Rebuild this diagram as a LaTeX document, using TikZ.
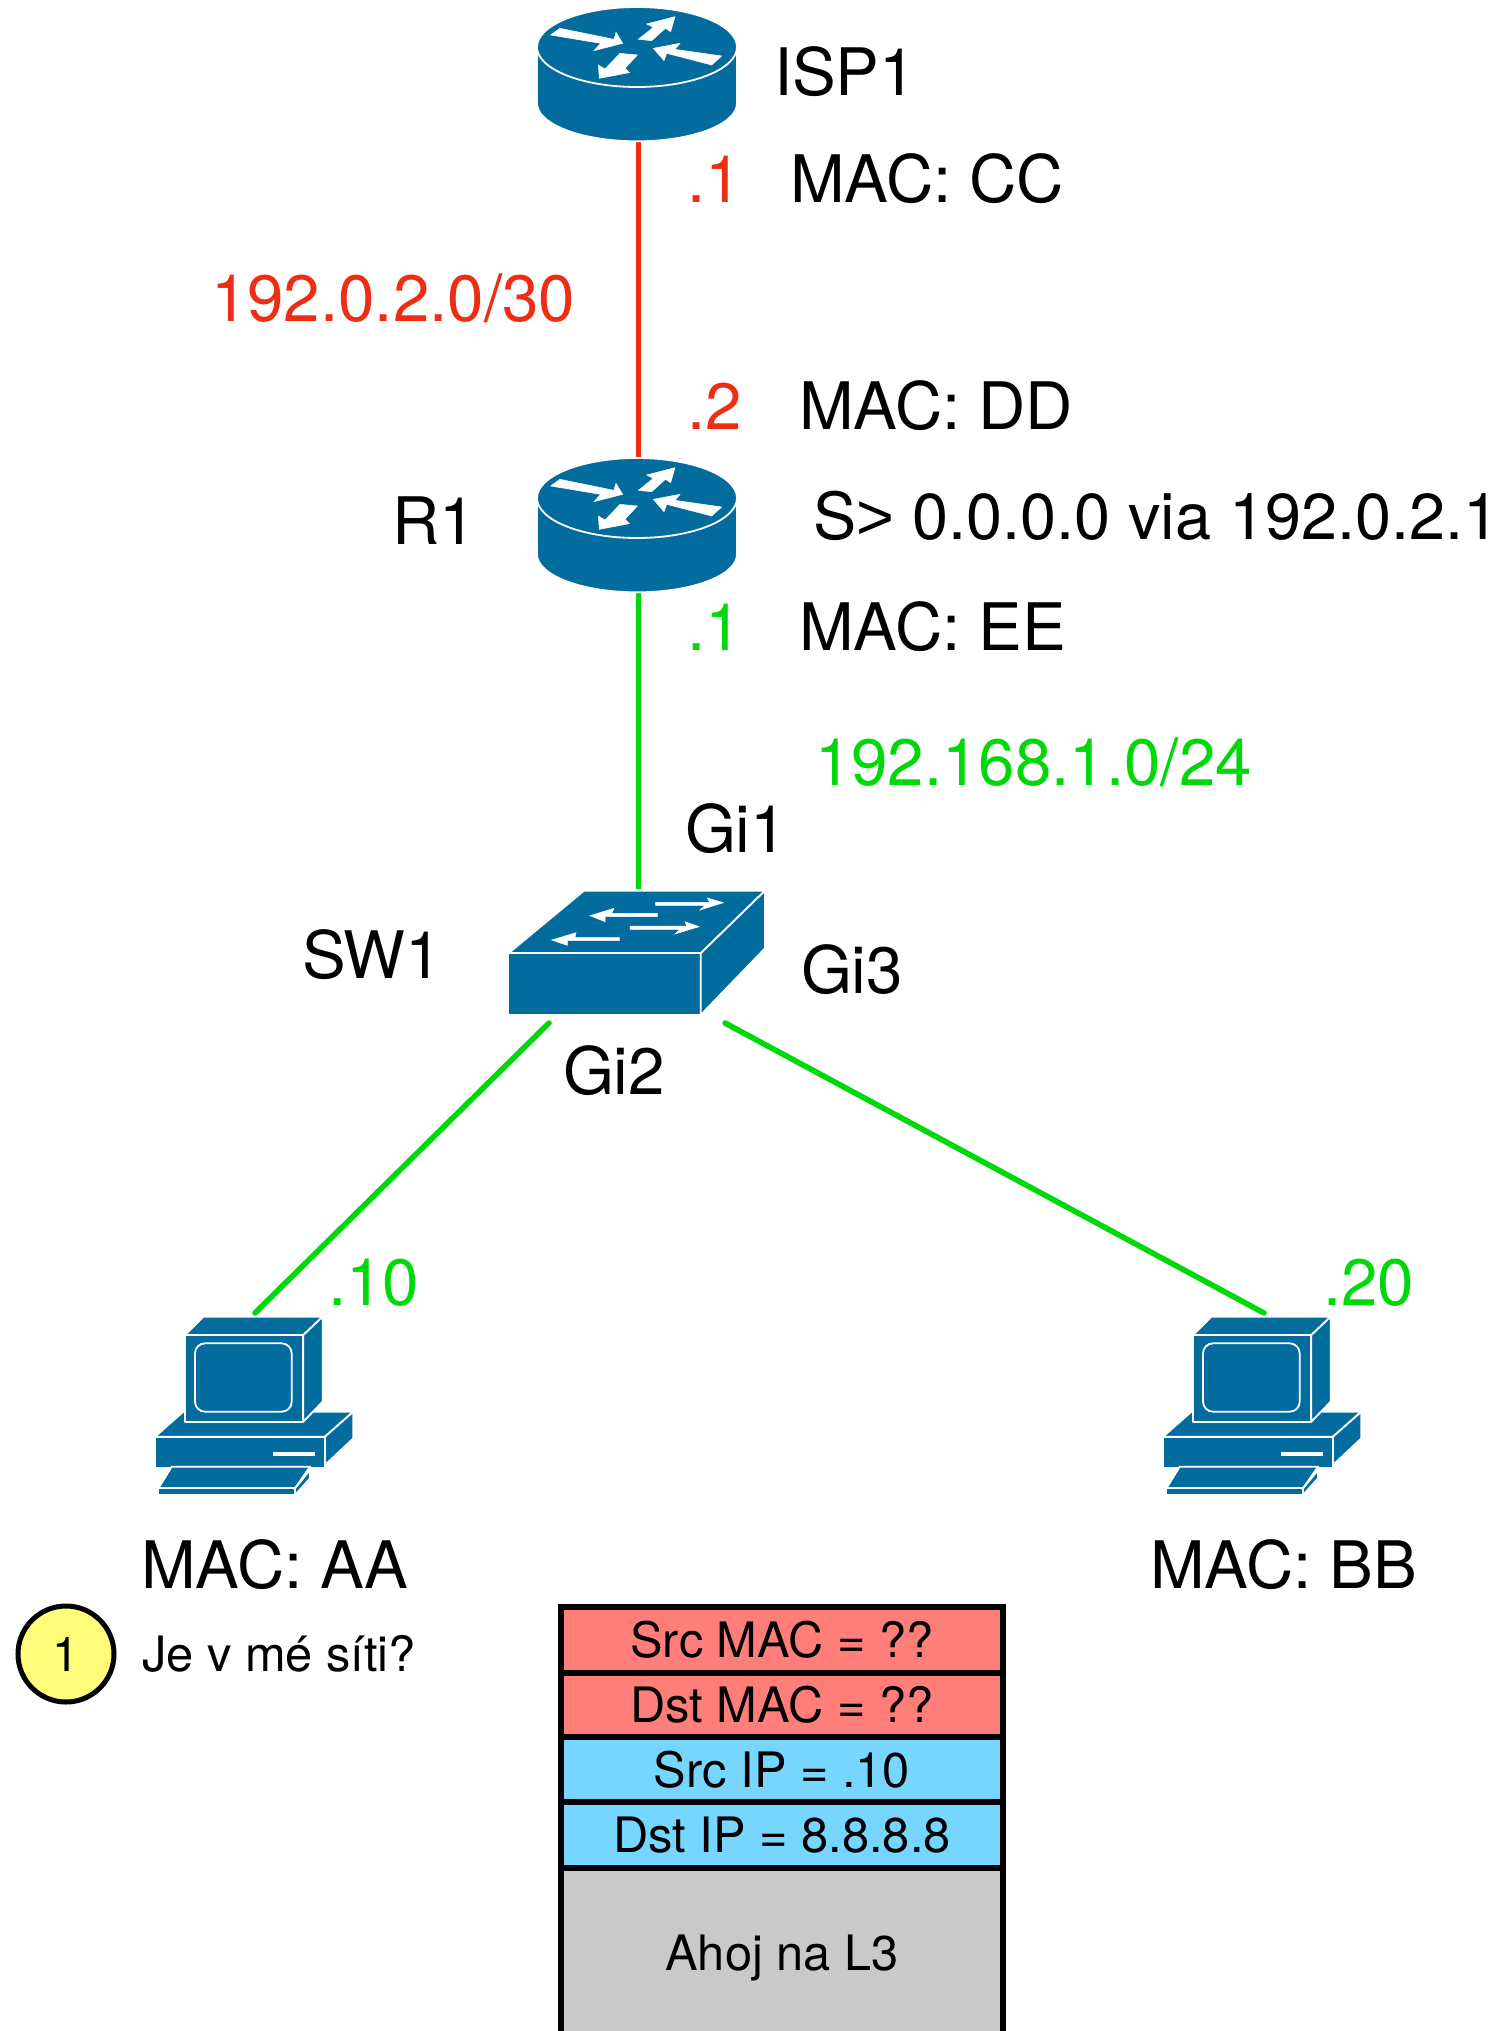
\documentclass[tikz,border=0pt]{standalone}
\usepackage{fontspec}
\setmainfont{TeX Gyre Heros}
\newfontfamily\gtfont{Liberation Sans}
\definecolor{devblue}{HTML}{036C9E}
\definecolor{linkred}{HTML}{EE2E14}
\definecolor{linkgreen}{HTML}{00D80A}
\definecolor{cellred}{HTML}{FF7E79}
\definecolor{cellblue}{HTML}{76D6FF}
\definecolor{cellgrey}{HTML}{C9C9C9}
\definecolor{markyellow}{HTML}{FFFC79}
\tikzset{
  devbox/.style={inner sep=0pt,outer sep=0pt,minimum width=#1},
  devpart/.style={fill=devblue,draw=white,line width=1.8pt,line join=round},
  whitearrow/.style={fill=white,draw=white,line width=0.5pt},
  redlink/.style={draw=linkred,line width=5.6pt},
  greenlink/.style={draw=linkgreen,line width=5.6pt,line cap=round},
  lab/.style={inner sep=0pt,outer sep=0pt,anchor=base west,yshift=0.3pt,font=\fontsize{65.5}{70}\selectfont},
  smalllab/.style={lab,font=\fontsize{48.8}{54}\selectfont},
  redlab/.style={lab,text=linkred},
  greenlab/.style={lab,text=linkgreen},
  cell/.style={draw=black,line width=5.6pt,minimum width=442pt,inner sep=0pt,outer sep=0pt,font=\fontsize{48.8}{54}\selectfont},
}
\newcommand{\routerart}[2]{%
\begin{scope}[shift={(#1,#2)},x=0.33333pt,y=-0.33333pt]
\path[devpart] (81,141) -- (81,310) arc[start angle=180,end angle=360,x radius=100pt,y radius=38pt] -- (681,141) -- cycle;
\path[devpart] (381,141) ellipse[x radius=100pt,y radius=40pt];
\path[whitearrow] (122,105) -- (150,85) -- (312,118) -- (318,97) -- (338,130) -- (252,152) -- (272,130) -- cycle;
\path[whitearrow] (385,118) -- (430,82) -- (410,72) -- (495,50) -- (482,95) -- (466,85) -- (425,122) -- cycle;
\path[whitearrow] (635,168) -- (605,195) -- (470,160) -- (462,182) -- (430,145) -- (510,130) -- (495,148) -- cycle;
\path[whitearrow] (382,165) -- (345,205) -- (358,218) -- (268,235) -- (265,195) -- (285,207) -- (330,160) -- cycle;
\end{scope}}
\newcommand{\switchart}[2]{%
\begin{scope}[shift={(#1,#2)},x=0.33333pt,y=-0.33333pt]
\path[devpart] (55,250) -- (282,62) -- (825,62) -- (632,250) -- cycle;
\path[devpart] (55,250) -- (632,250) -- (632,435) -- (55,435) -- cycle;
\path[devpart] (632,250) -- (825,62) -- (825,235) -- (632,435) -- cycle;
\path[whitearrow] (497,97) -- (660,97) -- (652,84) -- (700,98) -- (630,120) -- (645,106) -- (497,106) -- cycle;
\path[whitearrow] (502,130) -- (365,130) -- (372,115) -- (300,137) -- (345,155) -- (345,140) -- (502,140) -- cycle;
\path[whitearrow] (420,168) -- (590,168) -- (585,155) -- (627,170) -- (555,192) -- (570,178) -- (420,178) -- cycle;
\path[whitearrow] (388,203) -- (255,203) -- (258,188) -- (185,210) -- (232,226) -- (232,212) -- (388,212) -- cycle;
\end{scope}}
\newcommand{\pcart}[2]{%
\begin{scope}[shift={(#1,#2)},x=0.33333pt,y=-0.33333pt]
\path[devpart] (45,410) -- (130,335) -- (640,335) -- (555,410) -- cycle;
\path[devpart] (45,410) -- (555,410) -- (555,505) -- (45,505) -- cycle;
\path[devpart] (555,410) -- (640,335) -- (640,415) -- (555,495) -- cycle;
\path[devpart] (135,105) -- (190,50) -- (548,50) -- (490,105) -- cycle;
\path[devpart] (490,105) -- (548,50) -- (548,305) -- (490,365) -- cycle;
\path[devpart] (135,105) -- (490,105) -- (490,365) -- (135,365) -- cycle;
\path[devpart,rounded corners=10pt] (165,130) -- (455,130) -- (455,335) -- (165,335) -- cycle;
\path[fill=white] (400,457) -- (525,457) -- (525,467) -- (400,467) -- cycle;
\path[devpart] (465,565) -- (510,510) -- (510,535) -- (465,585) -- cycle;
\path[devpart] (95,500) -- (510,500) -- (465,565) -- (55,565) -- cycle;
\path[devpart] (55,565) -- (465,565) -- (465,585) -- (55,585) -- cycle;
\end{scope}}
\begin{document}
\begin{tikzpicture}[x=1pt,y=-1pt]
\useasboundingbox (0,0) rectangle (1498,2031);
% device anchors
\node[devbox=200pt,minimum height=136pt] (isp) at (638.5,74) {};
\node[devbox=200pt,minimum height=136pt] (r1) at (638.5,525) {};
\node[devbox=258pt,minimum height=125pt] (sw) at (638.5,951) {};
\node[devbox=200pt,minimum height=178pt] (pca) at (253,1403) {};
\node[devbox=200pt,minimum height=178pt] (pcb) at (1260,1403) {};
\coordinate (swl) at (549,1023);
\coordinate (swr) at (725,1023);
\coordinate (pcal) at (255,1313);
\coordinate (pcbl) at (1264,1313);
% links
\draw[redlink] (isp.south) -- ([yshift=-4pt]r1.north);
\draw[greenlink,line cap=butt] (r1.south) -- (sw.north);
\draw[greenlink] (swl) -- (pcal);
\draw[greenlink] (swr) -- (pcbl);
% devices
\routerart{510}{0}
\routerart{510}{451}
\switchart{490}{870}
\pcart{140}{1300}
\pcart{1148}{1300}
% labels
\node[lab] (tisp) at (774,96) {ISP1};
\node[redlab] (t1) at (687,203) {.1};
\node[lab] (tcc) at (790,203) {MAC: CC};
\node[redlab] (tnet1) at (211,322) {192.0.2.0/30};
\node[redlab] (t2) at (687,430) {.2};
\node[lab] (tdd) at (799,430) {MAC: DD};
\node[lab] (tr1) at (392,545) {R1};
\node[lab,font=\fontsize{64.8}{70}\selectfont] (troute) at (813,540) {S{\gtfont >} 0.0.0.0 via 192.0.2.1};
\node[greenlab] (t3) at (687,651) {.1};
\node[lab] (tee) at (799,651) {MAC: EE};
\node[greenlab] (tnet2) at (815,786) {192.168.1.0/24};
\node[lab] (tgi1) at (685,853) {Gi1};
\node[lab] (tsw) at (302,979) {SW1};
\node[lab] (tgi3) at (801,994) {Gi3};
\node[lab] (tgi2) at (563,1095) {Gi2};
\node[greenlab] (t10) at (328,1306) {.10};
\node[greenlab] (t20) at (1323,1306) {.20};
\node[lab] (taa) at (141,1589) {MAC: AA};
\node[lab] (tbb) at (1150,1589) {MAC: BB};
% step marker
\node[circle,draw=black,fill=markyellow,line width=5pt,minimum size=96pt,inner sep=0pt,font=\fontsize{48}{54}\selectfont] (mark) at (66,1654) {1};
\node[smalllab] (tq) at (142,1671.5) {Je v mé síti?};
% frame
\node[cell,fill=cellgrey,minimum height=180pt] (c5) at (782,1958) {\raisebox{-1pt}{Ahoj na L3}};
\node[cell,fill=cellblue,minimum height=66pt] (c4) at (782,1835) {\raisebox{-2.5pt}{Dst IP = 8.8.8.8}};
\node[cell,fill=cellblue,minimum height=65pt] (c3) at (782,1769.5) {\raisebox{-2.5pt}{Src IP = .10}};
\node[cell,fill=cellred,minimum height=64pt] (c2) at (782,1705) {\raisebox{-2.5pt}{Dst MAC = ??}};
\node[cell,fill=cellred,minimum height=66pt] (c1) at (782,1640) {\raisebox{-2.5pt}{Src MAC = ??}};
\end{tikzpicture}
\end{document}
